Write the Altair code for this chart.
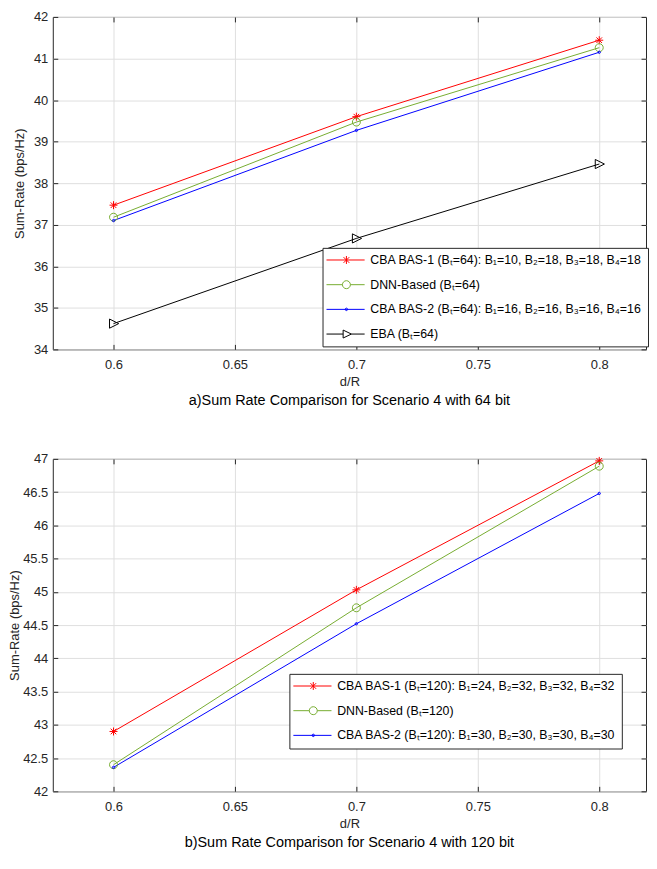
import altair as alt
import pandas as pd

# ---------------- data ----------------
x_vals = [0.6, 0.7, 0.8]
x_ticks = [0.6, 0.65, 0.7, 0.75, 0.8]

# panel a (64 bit)
a_series = [
    "CBA BAS-1 (Bₜ=64): B₁=10, B₂=18, B₃=18, B₄=18",
    "DNN-Based (Bₜ=64)",
    "CBA BAS-2 (Bₜ=64): B₁=16, B₂=16, B₃=16, B₄=16",
    "EBA (Bₜ=64)",
]
a_bas1 = [37.47, 39.60, 41.44]
a_dnn = [37.18, 39.47, 41.26]
a_bas2 = [37.10, 39.27, 41.15]
a_eba = [34.62, 36.67, 38.46]
a_yticks = [34, 35, 36, 37, 38, 39, 40, 41, 42]
a_caption = "a)Sum Rate Comparison for Scenario 4 with 64 bit"

# panel b (120 bit)
b_series = [
    "CBA BAS-1 (Bₜ=120): B₁=24, B₂=32, B₃=32, B₄=32",
    "DNN-Based (Bₜ=120)",
    "CBA BAS-2 (Bₜ=120): B₁=30, B₂=30, B₃=30, B₄=30",
]
b_bas1 = [42.90, 45.03, 46.97]
b_dnn = [42.40, 44.76, 46.89]
b_bas2 = [42.36, 44.52, 46.48]
b_yticks = [42, 42.5, 43, 43.5, 44, 44.5, 45, 45.5, 46, 46.5, 47]
b_caption = "b)Sum Rate Comparison for Scenario 4 with 120 bit"

colors = ["#FF0000", "#77AC30", "#0000FF", "#000000"]

# plot marker glyphs (unit-square paths)
M_STAR = "M0,-1L0,1M-1,0L1,0M-0.7,-0.7L0.7,0.7M-0.7,0.7L0.7,-0.7"
M_CIRC = "M1,0A1,1,0,1,1,-1,0A1,1,0,1,1,1,0"
M_DOT = "M0.3,0A0.3,0.3,0,1,1,-0.3,0A0.3,0.3,0,1,1,0.3,0"
M_TRI = "M-1,-1.15L1.3,0L-1,1.15Z"

# legend glyphs: line segment with the marker in the middle
L_STAR = "M-1.64,0L6.02,0M2.36,-0.8L2.36,0.8M1.79,-0.57L2.93,0.57M1.79,0.57L2.93,-0.57"
L_CIRC = "M-1.64,0L1.56,0M3.16,0L6.02,0M3.16,0A0.8,0.8,0,1,1,1.56,0A0.8,0.8,0,1,1,3.16,0"
L_DOT = "M-1.64,0L6.02,0M2.61,0A0.25,0.25,0,1,1,2.11,0A0.25,0.25,0,1,1,2.61,0"
L_TRI = "M-1.64,0L1.7,0M3.36,0L6.02,0M1.7,-0.8L3.36,0L1.7,0.8Z"

FONT = "Liberation Sans"
X_DOMAIN = [0.575, 0.81926]
PLOT_W = 596


def make_df(names, series_vals):
    rows = []
    for name, vals in zip(names, series_vals):
        for x, v in zip(x_vals, vals):
            rows.append({"dr": x, "rate": v, "series": name})
    return pd.DataFrame(rows)


def legend_df(names):
    return pd.DataFrame({"series": names, "dr": [None] * len(names), "rate": [None] * len(names)})


def panel(df, names, ydom, yticks, height, caption, marks, lglyphs, lx, ly, ytitle_pad):
    n = len(names)
    leg = dict(
        title=None,
        orient="none",
        legendX=lx,
        legendY=ly,
        strokeColor="#262626",
        fillColor="white",
        padding=6,
        labelFont=FONT,
        labelFontSize=12.4,
        labelColor="#000000",
        labelOffset=29.6,
        labelLimit=300,
        symbolSize=100,
        symbolStrokeWidth=1,
        rowPadding=11.8,
    )
    cscale = alt.Scale(domain=names, range=colors[:n])
    xs = alt.Scale(domain=X_DOMAIN, nice=False, zero=False)
    ys = alt.Scale(domain=ydom, nice=False, zero=False)

    lines = alt.Chart(df).mark_line(strokeWidth=1, clip=True).encode(
        x=alt.X(
            "dr:Q",
            scale=xs,
            axis=alt.Axis(
                orient="bottom", values=x_ticks, format="~g", offset=-5, tickSize=5,
                domain=False, grid=True, title="d/R", labelPadding=9.5, titlePadding=4,
            ),
        ),
        y=alt.Y(
            "rate:Q",
            scale=ys,
            axis=alt.Axis(
                orient="left", values=yticks, format="~g", offset=-5, tickSize=5,
                domain=False, grid=True, title="Sum-Rate (bps/Hz)", labelPadding=5,
                titlePadding=ytitle_pad,
            ),
        ),
        color=alt.Color("series:N", scale=cscale, legend=None),
    )

    layers = [lines]
    for i, name in enumerate(names):
        if i == 0:
            xa = alt.Axis(orient="top", values=x_ticks, labels=False, offset=-5, tickSize=5,
                          domain=False, grid=False, title=None)
            ya = alt.Axis(orient="right", values=yticks, labels=False, offset=-5, tickSize=5,
                          domain=False, grid=False, title=None)
        else:
            xa = None
            ya = None
        layers.append(
            alt.Chart(df)
            .transform_filter(alt.datum.series == name)
            .mark_point(shape=marks[i], filled=False, size=64, strokeWidth=1, opacity=1)
            .encode(
                x=alt.X("dr:Q", scale=xs, axis=xa),
                y=alt.Y("rate:Q", scale=ys, axis=ya),
                color=alt.Color("series:N", scale=cscale, legend=None),
            )
        )

    # legend-only layer: entries without positions, so nothing is drawn in the plot
    keylayer = alt.Chart(legend_df(names)).mark_point(filled=False, size=100, strokeWidth=1, opacity=1).encode(
        x=alt.X("dr:Q", scale=xs, axis=None),
        y=alt.Y("rate:Q", scale=ys, axis=None),
        color=alt.Color("series:N", scale=cscale, legend=alt.Legend(**leg)),
        shape=alt.Shape("series:N", scale=alt.Scale(domain=names, range=lglyphs[:n]),
                        legend=alt.Legend(**leg)),
    )
    layers.append(keylayer)
    return (
        alt.layer(*layers)
        .resolve_scale(x="independent", y="independent", color="independent", shape="independent")
        .resolve_legend(color="independent", shape="independent")
        .properties(
            width=PLOT_W,
            height=height,
            title=alt.Title(
                caption, orient="bottom", anchor="middle", frame="group", offset=5,
                font=FONT, fontSize=14.5, fontWeight="normal", color="#000000",
            ),
        )
    )


df_a = make_df(a_series, [a_bas1, a_dnn, a_bas2, a_eba])
df_b = make_df(b_series, [b_bas1, b_dnn, b_bas2])

top = panel(df_a, a_series, [34, 42], a_yticks, 334, a_caption,
            [M_STAR, M_CIRC, M_DOT, M_TRI], [L_STAR, L_CIRC, L_DOT, L_TRI], 271, 232, 7)
bottom = panel(df_b, b_series, [42, 47], b_yticks, 334, b_caption,
               [M_STAR, M_CIRC, M_DOT], [L_STAR, L_CIRC, L_DOT], 237.7, 216, 1)

chart = (
    alt.vconcat(top, bottom, spacing=44)
    .resolve_scale(color="independent", shape="independent")
    .resolve_legend(color="independent", shape="independent")
    .properties(padding={"left": 0, "top": 0, "right": 0, "bottom": 0})
    .configure_view(stroke="#262626", strokeWidth=1)
    .configure_axis(
        labelFont=FONT, labelFontSize=13, labelColor="#262626",
        titleFont=FONT, titleFontSize=13, titleFontWeight="normal", titleColor="#262626",
        tickColor="#262626", tickWidth=1, gridColor="#dfdfdf", gridWidth=1,
    )
)

chart.save("out.html", embed_options={"renderer": "svg", "actions": False})
